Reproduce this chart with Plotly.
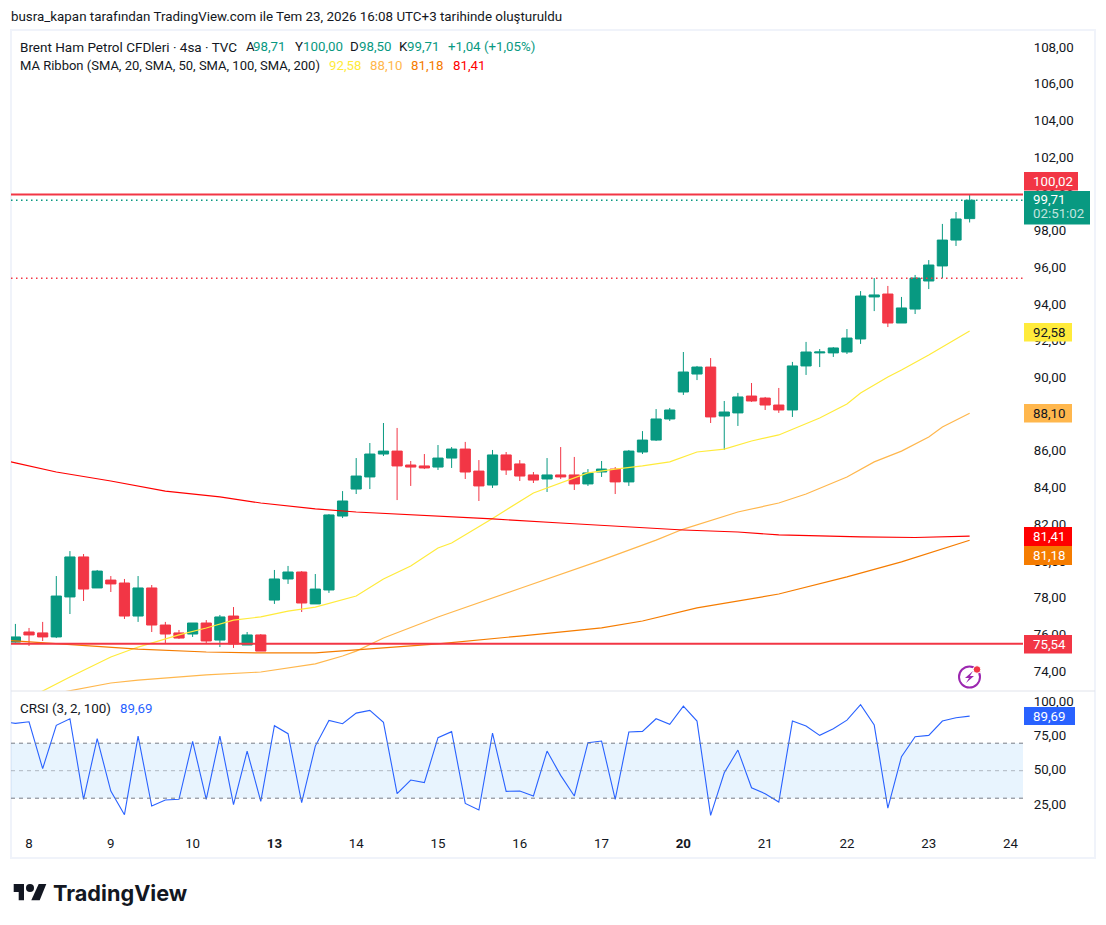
import plotly.graph_objects as go

# ---- data ----
opens = [75.63,76.18,76.13,75.91,78.09,80.27,78.58,79.01,78.85,77.05,78.58,76.56,76.13,76.07,76.67,75.74,77.05,75.47,76.02,
         77.92,79.07,79.45,77.71,78.47,82.50,83.97,84.63,85.88,86.04,85.28,85.23,85.17,85.66,86.15,84.95,84.19,85.83,85.34,
         84.74,84.52,84.74,84.74,84.25,84.90,85.06,84.36,85.99,86.64,87.79,89.26,90.24,90.62,87.95,88.12,89.04,88.93,88.55,
         88.28,90.68,91.39,91.39,91.44,92.15,94.44,94.60,93.02,93.78,95.31,96.13,97.54,98.71]
highs = [76.62,76.40,76.73,79.23,80.59,80.43,79.56,79.23,79.07,79.23,78.74,76.73,76.29,76.67,76.83,77.11,77.54,76.18,76.07,
         79.56,79.78,79.50,79.34,82.61,83.86,85.66,86.48,87.57,87.30,85.50,85.88,86.37,86.26,86.54,85.55,86.10,85.99,85.55,
         84.90,85.66,86.26,85.72,85.06,85.50,85.17,86.10,87.13,88.33,88.39,91.44,90.68,91.11,88.77,89.21,89.75,88.99,89.48,
         90.90,91.99,91.60,91.71,92.69,94.76,95.47,95.04,94.44,95.64,96.45,98.42,99.07,100.00]
lows = [75.60,75.42,75.69,75.85,77.16,77.87,78.58,78.36,76.89,76.73,76.18,75.58,75.80,75.91,75.58,75.36,75.31,75.47,75.14,
        77.71,78.80,77.27,77.71,78.31,82.39,83.70,83.97,85.77,83.37,84.14,85.06,85.01,85.12,84.52,83.32,84.03,84.74,84.41,
        84.30,83.81,84.52,83.92,84.14,84.63,83.70,84.14,85.88,86.59,87.68,89.10,89.91,87.57,86.10,87.41,88.72,88.28,88.12,
        87.90,90.19,90.62,91.17,91.33,91.88,93.67,92.80,93.02,93.51,94.87,95.47,97.22,98.50]
closes = [75.91,76.02,75.91,78.14,80.27,78.52,79.50,78.80,77.05,78.58,76.56,76.07,75.85,76.67,75.69,77.00,75.53,76.02,75.14,
          79.07,79.45,77.76,78.52,82.56,83.32,84.68,85.88,86.04,85.23,85.17,85.12,85.66,86.15,84.90,84.14,85.83,85.01,84.68,
          84.46,84.74,84.63,84.25,84.85,85.06,84.36,86.04,86.64,87.79,88.28,90.35,90.62,87.90,88.17,88.99,88.77,88.55,88.28,
          90.68,91.44,91.44,91.66,92.20,94.49,94.55,93.02,93.84,95.47,96.18,97.54,98.69,99.71]

sma20_bars = [0,2,4,7,9,12,14,16,18,20,22,25,27,29,31,32,35,38,40,42,44,46,48,49,50,52,54,56,57,59,61,62,64,65,67,70]
sma20_vals = [72.2,72.96,73.73,74.82,75.36,76.02,76.40,76.83,77.00,77.32,77.54,78.14,79.07,79.78,80.76,81.03,82.37,83.76,
              84.30,84.85,85.06,85.23,85.45,85.72,85.99,86.15,86.59,86.92,87.24,87.84,88.61,89.21,90.08,90.46,91.28,92.58]
sma50_bars = [0,4,7,9,14,18,22,24,25,27,31,37,43,47,49,53,56,58,61,63,65,67,68,70]
sma50_vals = [72.42,72.99,73.40,73.56,73.84,74.00,74.44,74.87,75.14,75.85,77.00,78.55,80.10,81.19,81.79,82.72,83.21,83.70,
              84.63,85.45,86.04,86.81,87.35,88.10]
sma100_bars = [-1,0,2,6,9,14,18,22,25,31,37,43,46,50,56,61,65,70]
sma100_vals = [75.74,75.69,75.58,75.42,75.25,75.09,75.04,75.04,75.20,75.53,75.96,76.40,76.78,77.49,78.25,79.18,80.00,81.18]
sma200_bars = [-1,0,3,7,11,15,18,22,25,28,35,40,49,53,56,62,66,70]
sma200_vals = [85.55,85.40,84.90,84.41,83.86,83.54,83.21,82.89,82.72,82.61,82.34,82.12,81.74,81.63,81.47,81.36,81.33,81.41]

crsi_bars = list(range(-1, 71))
crsi = [85.8,84.4,85.6,51.5,83.0,87.8,29.2,73.3,35.2,18.0,75.2,24.3,28.7,29.2,71.3,29.2,75.2,25.3,64.3,27.7,82.7,76.9,26.7,67.9,
        86.6,84.2,91.9,93.9,85.2,33.3,43.2,41.3,74.0,78.4,26.2,21.4,77.4,35.0,35.2,31.6,64.3,46.6,31.6,70.4,71.6,29.2,78.1,
        78.6,87.8,83.7,97.0,86.1,17.5,48.5,65.0,37.6,33.3,27.2,86.1,82.5,75.7,80.5,86.8,98.0,83.2,22.8,60.2,74.7,75.7,86.1,
        88.5,89.69]

day_bars = [1,7,13,19,25,31,37,43,49,55,61,67,73]
day_labels = ["8","9","10","<b>13</b>","14","15","16","17","<b>20</b>","21","22","23","24"]

line_high = 100.02
line_low = 75.54
last_price = 99.71
dotted_low = 95.46

GREEN = "#089981"; RED = "#F23645"; BLUE = "#2962FF"
C20 = "#FFEB3B"; C50 = "#FFB74D"; C100 = "#F57C00"; C200 = "#FF0000"
TXT = "#131722"
FONT = "Roboto"
W, H = 1106, 925

def X(px): return px / W
def Y(py): return 1 - py / H

PL, PR, PT, PB, CB = 11, 1023, 30, 691, 828
SPACING = 13.632
X0 = 15.4
xrange_ = [(PL - X0) / SPACING, (PR - X0) / SPACING]
bars = list(range(len(closes)))

fig = go.Figure()
fig.add_trace(go.Candlestick(x=bars, open=opens, high=highs, low=lows, close=closes, xaxis="x", yaxis="y",
                             whiskerwidth=0, hoverinfo="skip",
                             increasing=dict(line=dict(color=GREEN, width=1), fillcolor=GREEN),
                             decreasing=dict(line=dict(color=RED, width=1), fillcolor=RED)))
for b, v, c in [(sma20_bars, sma20_vals, C20), (sma50_bars, sma50_vals, C50),
                (sma100_bars, sma100_vals, C100), (sma200_bars, sma200_vals, C200)]:
    fig.add_trace(go.Scatter(x=b, y=v, mode="lines", line=dict(color=c, width=1.2), xaxis="x", yaxis="y", hoverinfo="skip"))
fig.add_trace(go.Scatter(x=crsi_bars, y=crsi, mode="lines", line=dict(color=BLUE, width=1.1), xaxis="x2", yaxis="y2", hoverinfo="skip"))

shapes = []
def hline(v, color, width, dash="solid", yref="y"):
    shapes.append(dict(type="line", xref="x domain", x0=0, x1=1, yref=yref, y0=v, y1=v,
                       line=dict(color=color, width=width, dash=dash)))
def box(x0, y0, x1, y1, color):
    shapes.append(dict(type="rect", xref="paper", yref="paper", x0=X(x0), x1=X(x1), y0=Y(y0), y1=Y(y1),
                       fillcolor=color, line=dict(width=0), layer="above"))

# frame + pane separator
shapes.append(dict(type="rect", xref="paper", yref="paper", x0=X(11), x1=X(1095), y0=Y(30), y1=Y(858),
                   line=dict(color="#F0F3FA", width=2), layer="below"))
shapes.append(dict(type="line", xref="paper", yref="paper", x0=X(11), x1=X(1095), y0=Y(PB), y1=Y(PB),
                   line=dict(color="#E0E3EB", width=1)))
# price lines
hline(line_high, RED, 2)
hline(line_low, RED, 2)
hline(last_price, GREEN, 1.3, "1.5px,3.5px")
hline(dotted_low, RED, 1.3, "1.5px,3.5px")
# CRSI band
shapes.append(dict(type="rect", xref="x2 domain", x0=0, x1=1, yref="y2", y0=30, y1=70,
                   fillcolor="rgba(33,150,243,0.1)", line=dict(width=0), layer="below"))
hline(70, "#787B86", 1, "4px,4px", "y2")
hline(50, "rgba(120,123,134,0.5)", 1, "4px,4px", "y2")
hline(30, "#787B86", 1, "4px,4px", "y2")

annotations = []
def text(px, py, s, color=TXT, size=13.3, anchor="left", family=FONT):
    annotations.append(dict(xref="paper", yref="paper", x=X(px), y=Y(py), text=s, showarrow=False,
                            xanchor=anchor, yanchor="middle", align="left",
                            font=dict(color=color, size=size, family=family), borderpad=0, borderwidth=0))

# price-axis tags
tags = [(172, 190.5, 1078, RED, "100,02", "white", 181),
        (323, 341.5, 1072, C20, "92,58", TXT, 332),
        (404, 422.5, 1072, C50, "88,10", TXT, 413),
        (527, 546, 1072, C200, "81,41", "white", 536),
        (546, 565, 1072, C100, "81,18", "white", 555),
        (635, 653.5, 1072, RED, "75,54", "white", 644),
        (707, 725, 1075, BLUE, "89,69", "white", 716)]
for y0, y1, x1, c, s, tc, yc in tags:
    box(1024, y0, x1, y1, c)
    text(1033, yc, s, tc)
box(1024, 191, 1090, 224.5, GREEN)
text(1033, 199, "99,71", "white")
text(1033, 214, "02:51:02", "rgba(255,255,255,0.75)")

# heading and legends
text(11, 16, "busra_kapan tarafından TradingView.com ile Tem 23, 2026 16:08 UTC+3 tarihinde oluşturuldu", size=13.37)
text(20, 46.5, "Brent Ham Petrol CFDleri · 4sa · TVC", size=13.5)
for x, lab, xv, val in [(246, "A", 253, "98,71"), (295, "Y", 303, "100,00"), (350, "D", 358.5, "98,50"), (399, "K", 407, "99,71")]:
    text(x, 46.5, lab)
    text(xv, 46.5, val, GREEN)
text(447.5, 46.5, "+1,04 (+1,05%)", GREEN)
text(20, 65.5, "MA Ribbon (SMA, 20, SMA, 50, SMA, 100, SMA, 200)", size=13)
text(329, 65.5, "92,58", C20)
text(370, 65.5, "88,10", C50)
text(411, 65.5, "81,18", C100)
text(452.5, 65.5, "81,41", C200)
text(20, 708.5, "CRSI (3, 2, 100)", size=13.45)
text(120, 708.5, "89,69", BLUE)

# logo
def poly(points):
    return "M" + " L".join(f"{X(a):.5f},{Y(b):.5f}" for a, b in points) + " Z"
for pts in [[(13.7, 884), (24, 884), (24, 900.3), (18.7, 900.3), (18.7, 892), (13.7, 892)],
            [(38.7, 884), (46.3, 884), (39.7, 900.3), (31.3, 900.3)]]:
    shapes.append(dict(type="path", xref="paper", yref="paper", path=poly(pts), fillcolor="#131722", line=dict(width=0)))
def circle(cx, cy, r, **kw):
    shapes.append(dict(type="circle", xref="paper", yref="paper", x0=X(cx - r), x1=X(cx + r), y0=Y(cy + r), y1=Y(cy - r), **kw))
circle(30, 888, 4, fillcolor="#131722", line=dict(width=0))
text(53, 893, "<b>TradingView</b>", "#131722", 21.7, family="Inter")
# alert icon
circle(969.5, 677, 10.5, fillcolor="rgba(0,0,0,0)", line=dict(color="#9C27B0", width=2))
shapes.append(dict(type="path", xref="paper", yref="paper", fillcolor="#9C27B0", line=dict(width=0),
                   path=poly([(973, 671), (965, 678), (969, 678), (966, 683), (974, 676), (970, 676)])))
circle(977, 669.5, 3.8, fillcolor="#F23645", line=dict(color="white", width=1))

tick_font = dict(size=13.3, color=TXT, family=FONT)
fig.update_layout(
    width=W, height=H, margin=dict(l=0, r=0, t=0, b=0), autosize=False,
    paper_bgcolor="white", plot_bgcolor="white", showlegend=False, separators=",.",
    boxgap=0.25, boxgroupgap=0, shapes=shapes, annotations=annotations, hovermode=False,
    font=dict(family=FONT, size=13, color=TXT),
    xaxis=dict(domain=[X(PL), X(PR)], range=xrange_, anchor="y", showticklabels=False, showgrid=False,
               zeroline=False, rangeslider=dict(visible=False), ticks=""),
    yaxis=dict(domain=[Y(PB), Y(PT)], range=[74 + (672 - PB) * 0.0545, 74 + (672 - PT) * 0.0545], side="right", anchor="x",
               tickvals=list(range(74, 110, 2)), tickformat=".2f", showgrid=False, zeroline=False,
               ticks="outside", ticklen=7, tickcolor="rgba(0,0,0,0)", ticklabelshift=-1, tickfont=tick_font),
    xaxis2=dict(domain=[X(PL), X(PR)], range=xrange_, anchor="y2", tickvals=day_bars, ticktext=day_labels, showgrid=False,
                zeroline=False, ticks="outside", ticklen=3, tickcolor="rgba(0,0,0,0)", tickangle=0, tickfont=tick_font),
    yaxis2=dict(domain=[Y(CB), Y(PB)], range=[50 + (770.7 - CB) / 1.375, 50 + (770.7 - PB) / 1.375], side="right", anchor="x2",
                tickvals=[25, 50, 75, 100], tickformat=".2f", showgrid=False, zeroline=False,
                ticks="outside", ticklen=7, tickcolor="rgba(0,0,0,0)", ticklabelshift=-1, tickfont=tick_font),
)

fig.write_html("out.html", config={"displayModeBar": False},
               post_script="document.body.style.margin='0';document.body.style.overflow='hidden';")
